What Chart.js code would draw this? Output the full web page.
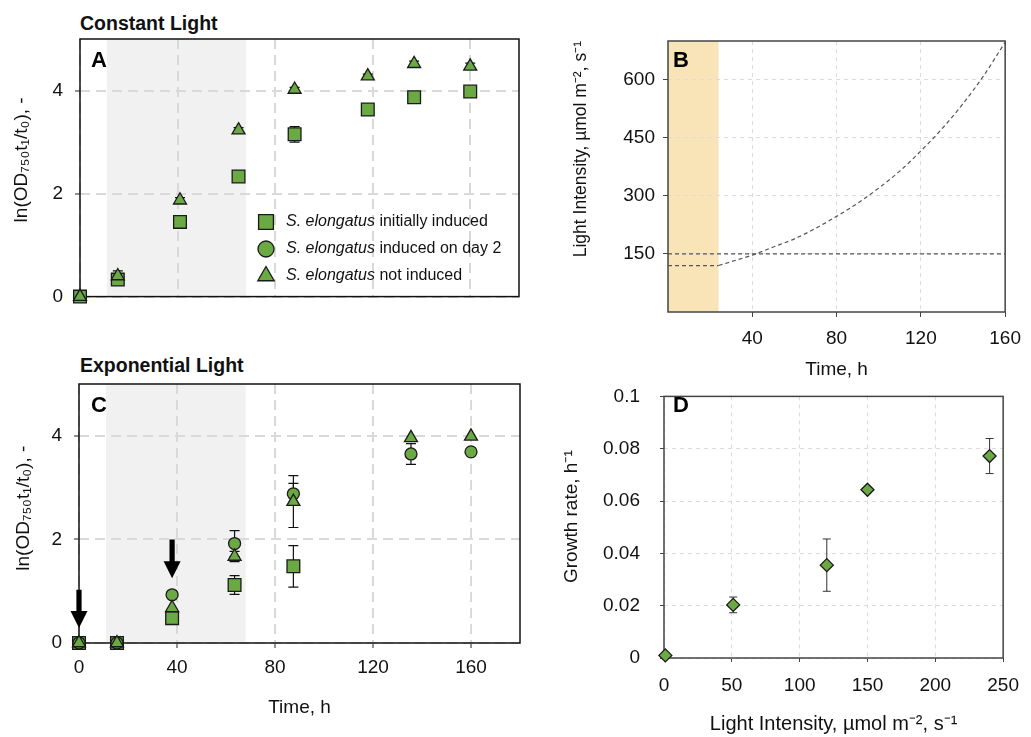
<!DOCTYPE html>
<html>
<head>
<meta charset="utf-8">
<script src="https://cdn.jsdelivr.net/npm/chart.js@4.4.1/dist/chart.umd.min.js"></script>
<style>
  body { margin: 0; background: #fff; width: 1031px; height: 737px; position: relative; overflow: hidden;
         font-family: 'Liberation Sans', Arial, sans-serif; }
  canvas { position: absolute; }
  .title { position: absolute; font-weight: bold; font-size: 19.5px; line-height: 22px; color: #111; }
  .letter { position: absolute; font-weight: bold; font-size: 22px; line-height: 22px; color: #000; }
</style>
</head>
<body>
<div class="title" style="left:80px; top:12px">Constant Light</div>
<div class="title" style="left:80px; top:354px">Exponential Light</div>

<canvas id="chartA" width="540" height="320" style="left:0; top:0"></canvas>
<canvas id="chartB" width="491" height="388" style="left:540px; top:0"></canvas>
<canvas id="chartC" width="540" height="397" style="left:0; top:340px"></canvas>
<canvas id="chartD" width="491" height="372" style="left:540px; top:365px"></canvas>

<div class="letter" style="left:91px; top:49px">A</div>
<div class="letter" style="left:673px; top:49px">B</div>
<div class="letter" style="left:91px; top:394px">C</div>
<div class="letter" style="left:673px; top:394px">D</div>

<script>
// ---- data ----

// panel A: constant light
const timeA = [0, 15.5, 41, 65, 88, 118, 137, 160];
const squaresA = [0, 0.33, 1.45, 2.33, 3.15, 3.63, 3.87, 3.98];
const squaresAErr = [0, 0.06, 0, 0.05, 0.15, 0, 0, 0];
const circlesA = [];
const trianglesA = [0, 0.4, 1.87, 3.23, 4.02, 4.28, 4.52, 4.47];
const trianglesAErr = [0, 0.1, 0.05, 0.05, 0.04, 0.04, 0.05, 0.06];

// panel C: exponential light
const timeC = [0, 15.5, 38, 63.5, 87.5, 135.5, 160];
const squaresC = [0, 0, 0.48, 1.12, 1.48, null, null];
const squaresCErr = [0, 0, 0, 0.18, 0.4, 0, 0];
const circlesC = [0, 0, 0.93, 1.92, 2.88, 3.65, 3.69];
const circlesCErr = [0, 0, 0, 0.25, 0.2, 0.2, 0];
const trianglesC = [0, 0, 0.68, 1.67, 2.73, 3.96, 3.99];
const trianglesCErr = [0, 0, 0, 0.1, 0.5, 0, 0];
// induction arrows (time, top, tip)
const arrowTime = [0, 38];
const arrowTop = [1.03, 2.0];
const arrowTip = [0.29, 1.25];

const timeTicks = [0, 40, 80, 120, 160];
const odTicks = [0, 2, 4];

const legendItalic = ['S. elongatus', 'S. elongatus', 'S. elongatus'];
const legendRest = [' initially induced', ' induced on day 2', ' not induced'];

// panel B: light profile
const constTime = [0, 160];
const constLight = [150, 150];
const preTime = [0, 24];
const preLight = [120, 120];
const rampTime = [24, 30, 40, 50, 60, 70, 80, 90, 100, 110, 120, 130, 140, 150, 160];
const rampLight = [120, 130, 147, 168, 189, 216, 247, 281, 320, 364, 416, 473, 538, 612, 697];
const lightTimeTicks = [40, 80, 120, 160];
const lightTicks = [150, 300, 450, 600];

// panel D: growth rate vs light
const intensityD = [1, 51, 120, 150, 240];
const rateD = [0.001, 0.0203, 0.0355, 0.0643, 0.0772];
const rateDErr = [0, 0.003, 0.01, 0, 0.0067];
const intensityTicks = [0, 50, 100, 150, 200, 250];
const rateTicks = [0, 0.02, 0.04, 0.06, 0.08, 0.1];

// ---- helpers ----
const FONT = "'Liberation Sans', Arial, sans-serif";
const GREEN = '#6aa944';
const EDGE = '#1a1a1a';

Chart.defaults.font.family = FONT;
Chart.defaults.font.size = 19;
Chart.defaults.color = '#111';

function pts(xs, ys, errs) {
    const out = [];
    xs.forEach((x, i) => {
        if (ys[i] === null || ys[i] === undefined) return;
        out.push({ x: x, y: ys[i], e: errs ? errs[i] : 0 });
    });
    return out;
}

function fixWidth(w) { return s => { s.width = w; }; }
function fixHeight(h) { return s => { s.height = h; }; }
function setTicks(vals) { return s => { s.ticks = vals.map(v => ({ value: v })); }; }

const shadePlugin = {
    id: 'shade',
    beforeDraw(chart, args, opts) {
        const { ctx, chartArea: a, scales: { x } } = chart;
        const l = x.getPixelForValue(opts.from);
        const r = x.getPixelForValue(opts.to);
        ctx.save();
        ctx.fillStyle = opts.color;
        ctx.fillRect(l, a.top, r - l, a.bottom - a.top);
        ctx.restore();
    }
};

const framePlugin = {
    id: 'frame',
    beforeDatasetsDraw(chart, args, opts) {
        const { ctx, chartArea: a } = chart;
        ctx.save();
        ctx.strokeStyle = opts.color;
        ctx.lineWidth = opts.width;
        ctx.strokeRect(a.left, a.top, a.right - a.left, a.bottom - a.top);
        ctx.restore();
    }
};

const errPlugin = {
    id: 'errbars',
    beforeDatasetsDraw(chart, args, opts) {
        const { ctx, scales: { y } } = chart;
        ctx.save();
        ctx.strokeStyle = opts.color;
        ctx.lineWidth = opts.width;
        chart.data.datasets.forEach((ds, i) => {
            const meta = chart.getDatasetMeta(i);
            ds.data.forEach((p, j) => {
                if (!p.e) return;
                const el = meta.data[j];
                const t = y.getPixelForValue(p.y + p.e);
                const b = y.getPixelForValue(p.y - p.e);
                ctx.beginPath();
                ctx.moveTo(el.x, t); ctx.lineTo(el.x, b);
                ctx.moveTo(el.x - opts.cap, t); ctx.lineTo(el.x + opts.cap, t);
                ctx.moveTo(el.x - opts.cap, b); ctx.lineTo(el.x + opts.cap, b);
                ctx.stroke();
            });
        });
        ctx.restore();
    }
};

// legend with italic species name, drawn inside panel A
const legendPlugin = {
    id: 'speciesLegend',
    afterDatasetsDraw(chart, args, opts) {
        const ctx = chart.ctx;
        ctx.save();
        chart.data.datasets.forEach((ds, i) => {
            const y = opts.y + i * opts.rowGap;
            ctx.fillStyle = GREEN;
            ctx.strokeStyle = EDGE;
            ctx.lineWidth = 1.3;
            Chart.helpers.drawPoint(ctx, { pointStyle: ds.pointStyle, radius: opts.radius[i], rotation: 0, borderWidth: 1.3 }, opts.x, y);
            ctx.fillStyle = '#111';
            ctx.textBaseline = 'middle';
            ctx.font = 'italic 16px ' + FONT;
            ctx.fillText(legendItalic[i], opts.x + 20, y);
            const w = ctx.measureText(legendItalic[i]).width;
            ctx.font = '16px ' + FONT;
            ctx.fillText(legendRest[i], opts.x + 20 + w, y);
        });
        ctx.restore();
    }
};

const arrowPlugin = {
    id: 'arrows',
    beforeDatasetsDraw(chart) {
        const { ctx, scales: { x, y } } = chart;
        ctx.save();
        ctx.fillStyle = '#000';
        arrowTime.forEach((t, i) => {
            const px = x.getPixelForValue(t);
            const top = y.getPixelForValue(arrowTop[i]);
            const tip = y.getPixelForValue(arrowTip[i]);
            const head = 17, hw = 8.5, sw = 2.6;
            ctx.beginPath();
            ctx.moveTo(px - sw, top);
            ctx.lineTo(px + sw, top);
            ctx.lineTo(px + sw, tip - head);
            ctx.lineTo(px + hw, tip - head);
            ctx.lineTo(px, tip);
            ctx.lineTo(px - hw, tip - head);
            ctx.lineTo(px - sw, tip - head);
            ctx.closePath();
            ctx.fill();
        });
        ctx.restore();
    }
};

function markerSet(label, data, style, radius, order) {
    return {
        label: label,
        data: data,
        pointStyle: style,
        pointRadius: radius,
        pointHoverRadius: radius,
        pointBackgroundColor: GREEN,
        pointBorderColor: EDGE,
        pointBorderWidth: 1.3,
        showLine: false,
        clip: false,
        order: order
    };
}

// v4: grid line dashes live under border.dash
const heavyGrid = { color: '#d9d9d9', lineWidth: 2, tickColor: '#222', tickLength: 5, tickWidth: 1, tickBorderDash: [] };
const heavyBorder = { display: false, dash: [10, 6] };
const lightGrid = { color: '#dcdcdc', lineWidth: 1, tickColor: '#444', tickLength: 5, tickWidth: 1, tickBorderDash: [] };
const lightBorder = { display: false, dash: [4, 4] };

const odTitle = 'ln(OD\u2087\u2085\u2080t\u2081/t\u2080), -';
const lightTitle = 'Light Intensity, \u00b5mol m\u207b\u00b2, s\u207b\u00b9';

// ---- panel A ----
new Chart(document.getElementById('chartA'), {
    type: 'scatter',
    data: {
        datasets: [
            markerSet('S. elongatus initially induced', pts(timeA, squaresA, squaresAErr), 'rect', 9, 3),
            markerSet('S. elongatus induced on day 2', pts(timeA, circlesA), 'circle', 6, 2),
            markerSet('S. elongatus not induced', pts(timeA, trianglesA, trianglesAErr), 'triangle', 7.5, 1)
        ]
    },
    options: {
        responsive: false,
        animation: false,
        layout: { padding: { top: 39, right: 21, left: 0, bottom: 0 }, autoPadding: false },
        plugins: {
            legend: { display: false },
            tooltip: { enabled: false },
            shade: { from: 11, to: 68, color: '#f1f1f1' },
            frame: { color: '#111', width: 1.5 },
            errbars: { color: '#111', width: 1.2, cap: 5 },
            speciesLegend: { x: 266, y: 222, rowGap: 27, radius: [10.5, 8, 9.5] }
        },
        scales: {
            x: {
                type: 'linear', min: 0, max: 180,
                afterBuildTicks: setTicks(timeTicks),
                afterFit: fixHeight(21),
                grid: Object.assign({}, heavyGrid, { drawTicks: false }),
                border: heavyBorder,
                ticks: { display: false }
            },
            y: {
                min: 0, max: 5,
                afterBuildTicks: setTicks(odTicks),
                afterFit: fixWidth(80),
                grid: heavyGrid,
                border: heavyBorder,
                ticks: { padding: 12 },
                title: { display: true, text: '   ' + odTitle, font: { size: 19 }, padding: { top: 10, bottom: 10 } }
            }
        }
    },
    plugins: [shadePlugin, framePlugin, errPlugin, legendPlugin]
});

// ---- panel B ----
function lineSet(xs, ys, smooth) {
    return {
        data: pts(xs, ys),
        showLine: true,
        borderColor: '#555',
        borderWidth: 1.2,
        borderDash: [4, 3],
        pointRadius: 0,
        cubicInterpolationMode: smooth ? 'monotone' : 'default',
        clip: false
    };
}

new Chart(document.getElementById('chartB'), {
    type: 'scatter',
    data: {
        datasets: [
            lineSet(constTime, constLight, false),
            lineSet(preTime, preLight, false),
            lineSet(rampTime, rampLight, true)
        ]
    },
    options: {
        responsive: false,
        animation: false,
        layout: { padding: { top: 41, right: 15, left: 0, bottom: 0 }, autoPadding: false },
        plugins: {
            legend: { display: false },
            tooltip: { enabled: false },
            shade: { from: 0, to: 24, color: '#f9e4b7' },
            frame: { color: '#444', width: 1.5 }
        },
        scales: {
            x: {
                type: 'linear', min: 0, max: 160,
                afterBuildTicks: setTicks(lightTimeTicks),
                afterFit: fixHeight(76),
                grid: lightGrid,
                border: lightBorder,
                ticks: { padding: 10 },
                title: { display: true, text: 'Time, h', font: { size: 19 }, padding: { top: 6.6, bottom: 6.6 } }
            },
            y: {
                min: 0, max: 700,
                afterBuildTicks: setTicks(lightTicks),
                afterFit: fixWidth(128),
                grid: lightGrid,
                border: lightBorder,
                ticks: { padding: 8 },
                title: { display: true, text: lightTitle, align: 'end', font: { size: 17.5 }, padding: { top: 31, bottom: 31 } }
            }
        }
    },
    plugins: [shadePlugin, framePlugin]
});

// ---- panel C ----
new Chart(document.getElementById('chartC'), {
    type: 'scatter',
    data: {
        datasets: [
            markerSet('S. elongatus initially induced', pts(timeC, squaresC, squaresCErr), 'rect', 9, 3),
            markerSet('S. elongatus induced on day 2', pts(timeC, circlesC, circlesCErr), 'circle', 6, 2),
            markerSet('S. elongatus not induced', pts(timeC, trianglesC, trianglesCErr), 'triangle', 7.5, 1)
        ]
    },
    options: {
        responsive: false,
        animation: false,
        layout: { padding: { top: 44, right: 20, left: 0, bottom: 0 }, autoPadding: false },
        plugins: {
            legend: { display: false },
            tooltip: { enabled: false },
            shade: { from: 11, to: 68, color: '#f1f1f1' },
            frame: { color: '#111', width: 1.5 },
            errbars: { color: '#111', width: 1.2, cap: 5 }
        },
        scales: {
            x: {
                type: 'linear', min: 0, max: 180,
                afterBuildTicks: setTicks(timeTicks),
                afterFit: fixHeight(94),
                grid: heavyGrid,
                border: heavyBorder,
                ticks: { padding: 8 },
                title: { display: true, text: 'Time, h', font: { size: 19 }, padding: { top: 18, bottom: 18 } }
            },
            y: {
                min: 0, max: 5,
                afterBuildTicks: setTicks(odTicks),
                afterFit: fixWidth(79),
                grid: heavyGrid,
                border: heavyBorder,
                ticks: { padding: 12 },
                title: { display: true, text: '  ' + odTitle, font: { size: 19 }, padding: { top: 12, bottom: 12 } }
            }
        }
    },
    plugins: [shadePlugin, framePlugin, errPlugin, arrowPlugin]
});

// ---- panel D ----
new Chart(document.getElementById('chartD'), {
    type: 'scatter',
    data: {
        datasets: [
            markerSet('Growth rate', pts(intensityD, rateD, rateDErr), 'rectRot', 6.5, 1)
        ]
    },
    options: {
        responsive: false,
        animation: false,
        layout: { padding: { top: 28, right: 18, left: 0, bottom: 0 }, autoPadding: false },
        plugins: {
            legend: { display: false },
            tooltip: { enabled: false },
            frame: { color: '#444', width: 1.5 },
            errbars: { color: '#333', width: 1, cap: 4 }
        },
        scales: {
            x: {
                type: 'linear', min: 0, max: 250,
                afterBuildTicks: setTicks(intensityTicks),
                afterFit: fixHeight(79),
                grid: Object.assign({}, lightGrid, { tickLength: 4 }),
                border: lightBorder,
                ticks: { padding: 12 },
                title: { display: true, text: lightTitle, font: { size: 20 }, padding: { top: 1, bottom: 1 } }
            },
            y: {
                min: 0, max: 0.1,
                afterBuildTicks: setTicks(rateTicks),
                afterFit: fixWidth(124),
                grid: Object.assign({}, lightGrid, { tickLength: 4 }),
                border: lightBorder,
                ticks: { padding: 20, callback: v => String(+v.toFixed(3)) },
                title: { display: true, text: '    Growth rate, h\u207b\u00b9', font: { size: 19 }, padding: { top: 20.6, bottom: 20.6 } }
            }
        }
    },
    plugins: [framePlugin, errPlugin]
});
</script>
</body>
</html>
